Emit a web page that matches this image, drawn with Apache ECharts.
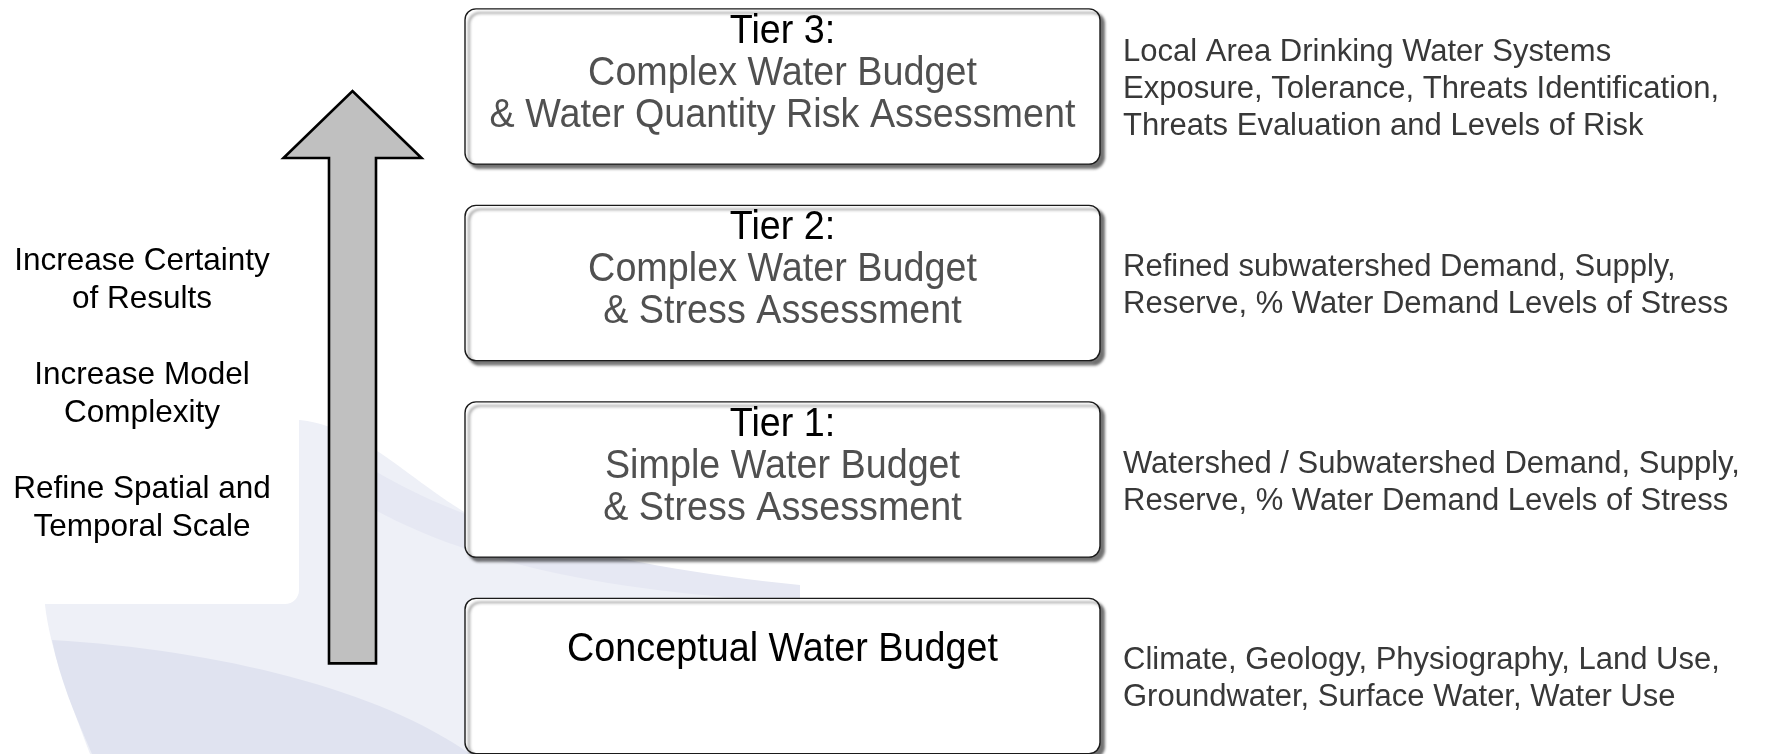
<!DOCTYPE html>
<html>
<head>
<meta charset="utf-8">
<script src="https://cdn.jsdelivr.net/npm/echarts@6/dist/echarts.min.js"></script>
<style>
html, body { margin: 0; padding: 0; background: #fff; }
#chart_container { width: 1778px; height: 754px; }
</style>
</head>
<body>
<div id="chart_container"></div>
<script>
// tiers, bottom (0) to top (3)
var headings = ['Conceptual Water Budget', 'Tier 1:', 'Tier 2:', 'Tier 3:'];
var subtitles = [
    '',
    'Simple Water Budget\n& Stress Assessment',
    'Complex Water Budget\n& Stress Assessment',
    'Complex Water Budget\n& Water Quantity Risk Assessment'
];
var details = [
    'Climate, Geology, Physiography, Land Use,\nGroundwater, Surface Water, Water Use',
    'Watershed / Subwatershed Demand, Supply,\nReserve, % Water Demand Levels of Stress',
    'Refined subwatershed Demand, Supply,\nReserve, % Water Demand Levels of Stress',
    'Local Area Drinking Water Systems\nExposure, Tolerance, Threats Identification,\nThreats Evaluation and Levels of Risk'
];
var sideNotes = ['Increase Certainty\nof Results', 'Increase Model\nComplexity', 'Refine Spatial and\nTemporal Scale'];
var arrowSpan = [0.064, 2.977];  // in tier units: tail -> tip
var sideNoteLevel = 1.435;       // tier level the notes are centred on

var FONT = '"Liberation Sans", Arial, Helvetica, sans-serif';
var W = 1778, H = 754;
var TIER_PX = 196.5, TOP_CENTER = 86.5;   // tier spacing and centre of top box
var BOX_L = 465, BOX_R = 1100, BOX_FRAC = 0.79;
var DETAIL_X = 1123, ARROW_X = 352.5, NOTE_X = 142;

var dom = document.getElementById('chart_container');
var myChart = echarts.init(dom);

function boxItem(params, api) {
    var i = api.value(0);
    var c = api.coord([BOX_L, i]);
    var r = api.coord([BOX_R, i]);
    var d = api.coord([DETAIL_X, i]);
    var h = api.size([0, 1])[1] * BOX_FRAC;
    var txt = '{h|' + headings[i] + '}';
    if (subtitles[i]) {
        txt += '\n' + subtitles[i].split('\n').map(function (s) { return '{s|' + s + '}'; }).join('\n');
    }
    return {
        type: 'group',
        children: [
            {
                type: 'rect',
                shape: { x: c[0], y: c[1] - h / 2, width: r[0] - c[0], height: h, r: 11 },
                style: {
                    fill: '#fff', stroke: '#1a1a1a', lineWidth: 1.4,
                    shadowBlur: 3, shadowOffsetX: 4, shadowOffsetY: 4, shadowColor: 'rgba(0,0,0,0.55)'
                }
            },
            {
                type: 'text',
                x: (c[0] + r[0]) / 2,
                y: c[1] + (subtitles[i] ? -13 : -26),
                scaleX: 1.02,
                scaleY: 1.1,
                style: {
                    text: txt,
                    align: 'center',
                    verticalAlign: 'middle',
                    rich: {
                        h: { fontFamily: FONT, fontSize: 37, lineHeight: 38, fill: '#000' },
                        s: { fontFamily: FONT, fontSize: 37, lineHeight: 38, fill: '#505050' }
                    }
                }
            },
            {
                type: 'text',
                x: d[0],
                y: d[1] + 3,
                style: {
                    text: details[i],
                    fontFamily: FONT, fontSize: 31, lineHeight: 37,
                    fill: '#383838', align: 'left', verticalAlign: 'middle'
                }
            }
        ]
    };
}

function arrowItem(params, api) {
    var tail = api.coord([ARROW_X, api.value(0)]);
    var tip = api.coord([ARROW_X, api.value(1)]);
    var x = tail[0], headH = 67, headW = 69, shaftW = 23.5;
    var pts = [
        [x - shaftW, tail[1]],
        [x - shaftW, tip[1] + headH],
        [x - headW, tip[1] + headH],
        [x, tip[1]],
        [x + headW, tip[1] + headH],
        [x + shaftW, tip[1] + headH],
        [x + shaftW, tail[1]]
    ];
    return {
        type: 'polygon',
        shape: { points: pts },
        style: { fill: '#c0c0c0', stroke: '#000', lineWidth: 2.6, lineJoin: 'miter' }
    };
}

function noteItem(params, api) {
    var p = api.coord([NOTE_X, api.value(0)]);
    return {
        type: 'text',
        x: p[0],
        y: p[1],
        style: {
            text: sideNotes.join('\n\n'),
            fontFamily: FONT, fontSize: 31.5, lineHeight: 38,
            fill: '#000', align: 'center', verticalAlign: 'middle'
        }
    };
}

// faint logo watermark behind the diagram (decoration only)
function watermarkItem() {
    return {
        type: 'group',
        children: [
            { type: 'path', shape: { pathData: 'M45 420 L300 420 C380 430 420 500 520 540 C620 575 720 590 800 594 L800 754 L90 754 C70 700 50 650 45 605 Z' }, style: { fill: '#eef0f7' } },
            { type: 'path', shape: { pathData: 'M52 640 C220 650 380 690 470 754 L92 754 C75 715 60 680 52 640 Z' }, style: { fill: '#e0e3f0' } },
            { type: 'path', shape: { pathData: 'M330 440 C430 520 600 565 800 585 L800 602 C600 592 440 560 330 482 Z' }, style: { fill: '#e6e8f3' } },
            { type: 'rect', shape: { x: -14, y: 215, width: 313, height: 389, r: 14 }, style: { fill: '#fff' } }
        ]
    };
}

option = {
    animation: false,
    backgroundColor: '#fff',
    grid: { left: 0, right: 0, top: 0, bottom: 0 },
    xAxis: { type: 'value', min: 0, max: W, show: false },
    yAxis: {
        type: 'value',
        min: -(H - TOP_CENTER - 3 * TIER_PX) / TIER_PX,
        max: 3 + TOP_CENTER / TIER_PX,
        show: false
    },
    series: [
        { type: 'custom', renderItem: watermarkItem, data: [[0]], silent: true, clip: false, z: 0 },
        { type: 'custom', renderItem: arrowItem, data: [arrowSpan], silent: true, clip: false, z: 2 },
        {
            type: 'custom',
            renderItem: boxItem,
            data: headings.map(function (h, i) { return [i]; }),
            silent: true,
            clip: false,
            z: 3
        },
        { type: 'custom', renderItem: noteItem, data: [[sideNoteLevel]], silent: true, clip: false, z: 3 }
    ]
};

myChart.setOption(option, true);
</script>
</body>
</html>
